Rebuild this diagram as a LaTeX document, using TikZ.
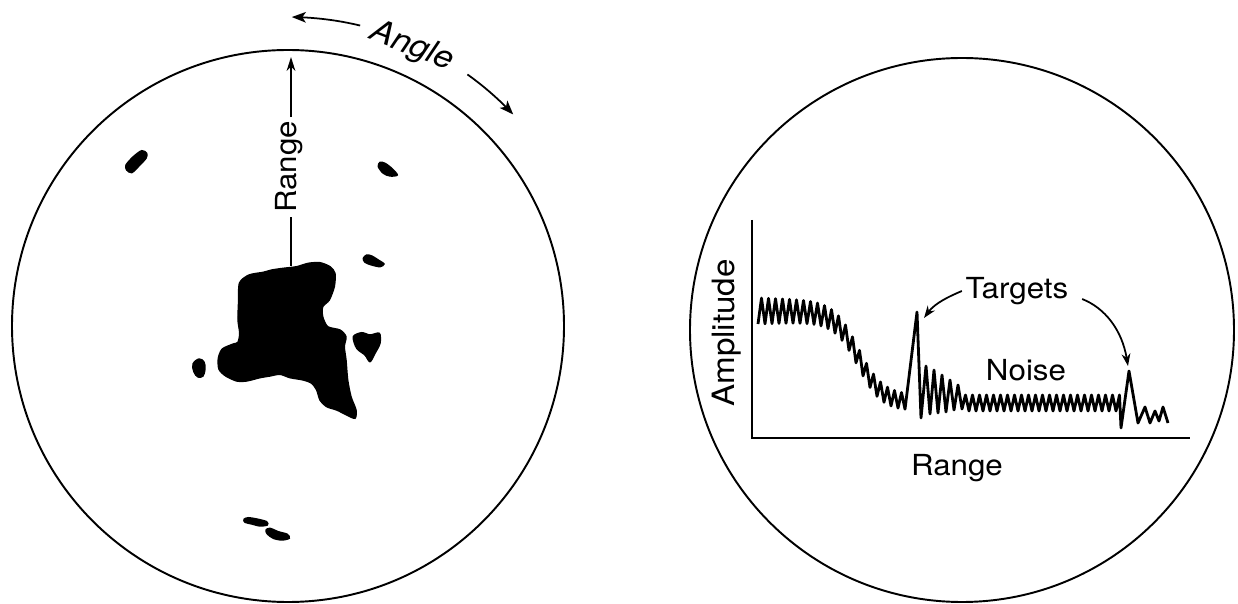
\documentclass[tikz,border=0pt]{standalone}
\usepackage{fontspec}
\setmainfont[FakeStretch=1.08]{TeX Gyre Heros}
\usetikzlibrary{arrows.meta}
\begin{document}
\begin{tikzpicture}[x=0.02cm,y=-0.02cm,
  rim/.style={line width=1.1pt},
  blob/.style={fill=black, draw=black, line width=0.8pt},
  lbl/.style={font=\fontsize{16.5}{19}\selectfont, inner sep=2pt},
  trace/.style={line width=1.6pt, line join=round},
  axis/.style={line width=1.2pt},
  rangearrow/.style={line width=1pt, -{Stealth[length=8pt,width=5pt]}},
  aarrow/.style={line width=1pt, -{Stealth[length=8pt,width=6pt,inset=2pt]}},
  tarrow/.style={line width=1pt, -{Stealth[length=7pt,width=5pt]}},
]
\useasboundingbox (0,0) rectangle (1238,604);

% ---------------- left scope (PPI) ----------------
\draw[rim] (288,326) circle[radius=276];

% main clutter blob
\fill[blob] plot[smooth cycle, tension=0.45] coordinates {
 (238.5,303.3) (239.5,283) (249,275) (263.3,272.3) (271.7,270) (283.3,268.3)
 (296.7,266.7) (308.3,263.3) (320,262.7) (330,266.7) (335,273.3) (334.3,286.7)
 (329.3,300) (322.7,306.7) (322.7,316.7) (327.7,326.7) (340,330) (346,336.7)
 (344.3,346.7) (346,360) (347.7,380) (351,396.7) (356,410) (355,418.3)
 (346.7,415) (336.7,410) (326.7,406.7) (320,400) (316.7,390) (311.7,383.3)
 (303.3,380) (290,377.7) (280,374.3) (270,376) (260,377.7) (246.7,381)
 (236.7,381) (225.7,376) (219,369.3) (218.3,358.3) (222.3,349) (233.3,344)
 (238,342.3) (239.7,333.3) (238,320)};
% small blobs
\fill[blob] plot[smooth cycle, tension=0.5] coordinates {
 (353.3,336.7) (361.7,332.7) (370,335) (379.3,333.3) (380,343.3) (375,353.3)
 (370,361.7) (365,355) (356.7,348.3)};
\fill[blob] plot[smooth cycle, tension=0.6] coordinates {
 (199,359) (204,362) (205,369) (203,376) (198,377) (194,372) (193,364)};
\fill[blob] plot[smooth cycle, tension=0.5] coordinates {
 (126.7,170) (126,165) (133.3,156.7) (141.7,150.7) (146.7,153.3) (146,158.3)
 (138.3,166.7) (131.7,172.7)};
\fill[blob] plot[smooth cycle, tension=0.5] coordinates {
 (378.3,166.7) (380,162.3) (385,163.3) (391.7,168.3) (397.3,175) (390,176)
 (383.3,173.3)};
\fill[blob] plot[smooth cycle, tension=0.5] coordinates {
 (363.3,258.3) (366.7,255) (371.7,256) (378.3,260) (384,264) (380,266.7)
 (371.7,265) (365,262.3)};
\fill[blob] plot[smooth cycle, tension=0.5] coordinates {
 (244,519.3) (248.3,517.7) (258.3,519.3) (266.7,521.7) (267.3,525) (260,526)
 (251.7,524) (245,522.3)};
\fill[blob] plot[smooth cycle, tension=0.5] coordinates {
 (266,530) (270,528.3) (278.3,531.7) (287.3,534.3) (289.3,538.3) (281.7,540)
 (273.3,538.3) (267.3,534)};

% range arrow
\coordinate (bt) at (291,266);
\coordinate (rt) at (291,57);
\node[lbl, rotate=90] (rl) at (289,167) {Range};
\draw[line width=1pt] (bt) -- (bt |- rl.west);
\draw[rangearrow] (rt |- rl.east) -- (rt);

% angle arrows
\node[lbl, font=\fontsize{18}{21}\selectfont\itshape, rotate=-21, inner sep=0pt] (ang) at (412,47) {Angle};
\draw[aarrow] plot[smooth, domain=76.5:89.3, samples=12] ({288+309*cos(\x)},{326-309*sin(\x)});
\draw[aarrow] plot[smooth, domain=54.5:43.2, samples=12] ({288+309*cos(\x)},{326-309*sin(\x)});

% ---------------- right scope (A-scope) ----------------
\draw[rim] (962,330) circle[radius=272];

\coordinate (ytop) at (752,220);
\coordinate (o) at (752,438);
\coordinate (xend) at (1190,438);
\draw[axis] (ytop) -- (o) -- (xend);

\node[lbl, rotate=90, font=\fontsize{17.5}{20}\selectfont] (amp) at (727,333) {Amplitude};
\node[lbl] (rr) at (957,468) {Range};
\node[lbl] (tg) at (1017,291) {Targets};
\node[lbl] (ns) at (1026,370) {Noise};

% trace
\draw[trace]
  plot[domain=0:42, samples=43] ({758+3.5*\x},{311+92/(1+exp(-(3.5*\x-100)/12))+(13-5*\x/42)*cos(180*\x)})
  -- (917,312) coordinate (pk1)
  -- (921,418) -- (926,366) -- (930,414) -- (934,370) -- (938,413) -- (942,375)
  -- (946,412) -- (950,380) -- (954,410) -- (958,385) -- (962,409)
  -- plot[domain=0:44, samples=45] ({965.5+3.5*\x},{403-8*cos(180*\x)})
  -- (1121,428) -- (1129,371) coordinate (pk2)
  -- (1138,423) -- (1145,407) -- (1150,423) -- (1155,411) -- (1159,421)
  -- (1163,407) -- (1168,423);

\coordinate (t1) at (924,318);
\coordinate (t2) at (1128,366);
\draw[tarrow] (tg.west) .. controls (950,296) and (935,303) .. (t1);
\draw[tarrow] ([shift={(10,8)}]tg.east) .. controls (1105,308) and (1122,330) .. (t2);
\end{tikzpicture}
\end{document}
